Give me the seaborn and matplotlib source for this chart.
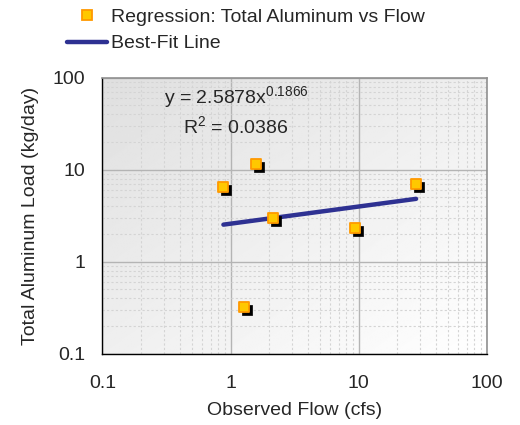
import numpy as np
import matplotlib
matplotlib.use("Agg")
import matplotlib.pyplot as plt
from matplotlib.transforms import offset_copy
from matplotlib.lines import Line2D
import seaborn as sns

flow = [0.88, 1.58, 2.13, 9.3, 28.1, 1.27]
load = [6.5, 11.4, 3.0, 2.3, 7.05, 0.32]

# power fit shown on chart: y = a * x^b
fit_a = 2.5878
fit_b = 0.1866
fit_r2 = 0.0386

tick_vals = [0.1, 1, 10, 100]
tick_labels = ["0.1", "1", "10", "100"]

sns.set_style("white")
plt.rcParams["font.family"] = ["Liberation Sans", "DejaVu Sans"]
plt.rcParams["mathtext.fontset"] = "custom"
plt.rcParams["mathtext.rm"] = "Liberation Sans"

FS = 14

fig = plt.figure(figsize=(5.2, 4.25), dpi=100)
ax = fig.add_axes([0.197, 0.168, 0.739, 0.649])
ax.set_xscale("log")
ax.set_yscale("log")
ax.set_xlim(0.1, 100)
ax.set_ylim(0.1, 100)

# gradient plot background
grad = np.linspace(0, 1, 256)
gx, gy = np.meshgrid(grad, grad[::-1])
shade = 0.5 * gx + 0.5 * (1 - gy)
ax.imshow(shade, extent=[0, 1, 0, 1], transform=ax.transAxes, cmap="gray",
          vmin=-7.0, vmax=1.0, aspect="auto", zorder=0)

ax.grid(which="major", color="#b4b4b4", linewidth=1.0, linestyle="-", zorder=1)
ax.grid(which="minor", color="#d4d4d4", linewidth=0.8, linestyle=(0, (2, 2)), zorder=1)

# fit line across observed range
xfit = np.logspace(np.log10(min(flow)), np.log10(max(flow)), 50)
yfit = fit_a * xfit ** fit_b
sns.lineplot(x=xfit, y=yfit, ax=ax, color="#2e3192", linewidth=3.2,
             solid_capstyle="round", zorder=3)

# black shadow behind markers
shadow = offset_copy(ax.transData, fig=fig, x=3, y=-3, units="dots")
ax.scatter(flow, load, marker="s", s=55, color="black", edgecolor="black",
           linewidth=0.5, transform=shadow, zorder=4)
sns.scatterplot(x=flow, y=load, ax=ax, marker="s", s=55, color="#ffc800",
                edgecolor="#ff9900", linewidth=1.3, zorder=5)

ax.set_xticks(tick_vals)
ax.set_xticklabels(tick_labels)
ax.set_yticks(tick_vals)
ax.set_yticklabels(tick_labels)
ax.tick_params(which="major", direction="inout", length=7, width=1, labelsize=FS)
ax.tick_params(axis="x", which="major", pad=12)
ax.tick_params(axis="y", which="major", pad=9)
ax.tick_params(which="minor", length=0)

for side in ["left", "bottom"]:
    ax.spines[side].set_color("black")
    ax.spines[side].set_linewidth(1)
for side in ["top", "right"]:
    ax.spines[side].set_color("#909090")
    ax.spines[side].set_linewidth(1.2)

ax.set_xlabel("Observed Flow (cfs)", fontsize=FS, labelpad=7)
ax.set_ylabel("Total Aluminum Load (kg/day)", fontsize=FS, labelpad=10)

ax.text(0.348, 0.926, r"y = %.4fx$^{%.4f}$" % (fit_a, fit_b), transform=ax.transAxes,
        ha="center", va="center", fontsize=FS)
ax.text(0.348, 0.821, r"R$^{2}$ = %.4f" % fit_r2, transform=ax.transAxes,
        ha="center", va="center", fontsize=FS)

handles = [
    Line2D([], [], marker="s", linestyle="none", markersize=7,
           markerfacecolor="#ffc800", markeredgecolor="#ff9900", markeredgewidth=1.3),
    Line2D([], [], color="#2e3192", linewidth=3.2, solid_capstyle="round"),
]
fig.legend(handles, ["Regression: Total Aluminum vs Flow", "Best-Fit Line"],
           loc="upper left", bbox_to_anchor=(0.129, 0.98), frameon=False,
           fontsize=FS, handlelength=2.05, handletextpad=0.2, labelspacing=0.45,
           borderaxespad=0, borderpad=0)

fig.savefig("out.png", dpi=100)
